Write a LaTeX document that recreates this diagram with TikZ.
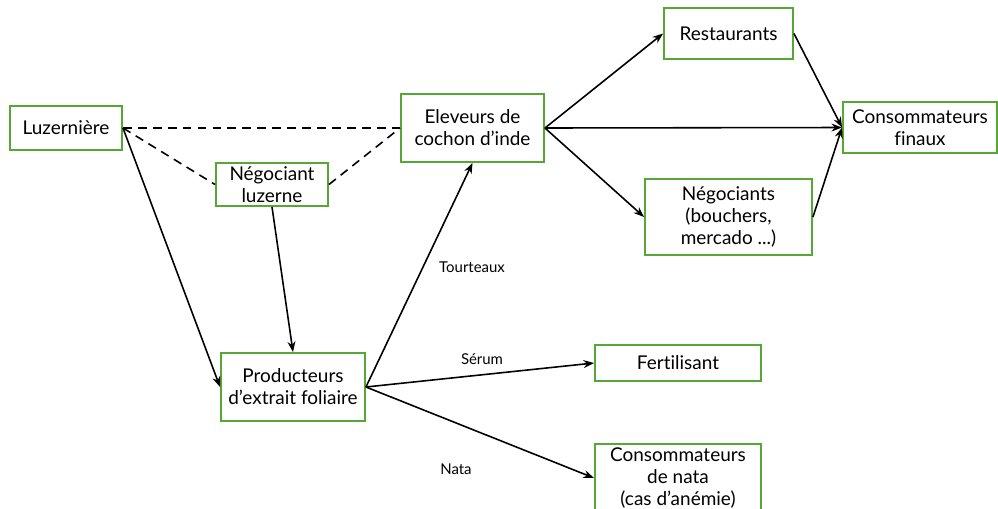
\documentclass[tikz,border=0pt]{standalone}
\usepackage{fontspec}
\setmainfont[Ligatures={NoCommon}]{Lato}
\usetikzlibrary{arrows.meta}
\definecolor{boxgreen}{RGB}{86,168,52}

\begin{document}
\begin{tikzpicture}[x=0.02cm,y=-0.02cm]
    \tikzset{
        acteur/.style={draw=boxgreen, line width=1.1pt, fill=white, align=center,
            inner sep=2pt, font=\fontsize{10.8}{12.5}\selectfont},
        flux/.style={-{Stealth[length=6pt,width=4.5pt]}, line width=0.9pt},
        lien/.style={dashed, dash pattern=on 5pt off 3.5pt, line width=0.9pt},
        produit/.style={inner sep=1pt, font=\fontsize{8.5}{10}\selectfont}
    }
    \useasboundingbox (0,0) rectangle (998,508);
    % acteurs
    \node[acteur, minimum width=2.24cm, minimum height=0.88cm] (luz) at (66,128) {Luzernière};
    \node[acteur, minimum width=2.24cm, minimum height=0.86cm] (neg) at (272,184.5) {Négociant\\luzerne};
    \node[acteur, minimum width=2.86cm, minimum height=1.36cm] (elev) at (472.5,128) {Eleveurs de\\cochon d’inde};
    \node[acteur, minimum width=2.88cm, minimum height=1.36cm] (prod) at (293,387) {Producteurs\\d’extrait foliaire};
    \node[acteur, minimum width=2.58cm, minimum height=1.02cm] (rest) at (728.5,33.5) {Restaurants};
    \node[acteur, minimum width=3.34cm, minimum height=1.52cm] (negs) at (728.5,217) {Négociants\\(bouchers,\\mercado ...)};
    \node[acteur, minimum width=3.08cm, minimum height=1.02cm] (cf) at (920,127.5) {Consommateurs\\finaux};
    \node[acteur, minimum width=3.32cm, minimum height=0.72cm] (fert) at (678,363) {Fertilisant};
    \node[acteur, minimum width=3.32cm, minimum height=1.36cm] (nata) at (678,478) {Consommateurs\\de nata\\(cas d’anémie)};
    % produits
    \node[produit] (tourt) at (472,267) {Tourteaux};
    \node[produit] (serum) at (482,359) {Sérum};
    \node[produit] (natalab) at (456,469) {Nata};
    % liens
    \draw[lien] (luz.east) -- (elev.west);
    \draw[lien] (luz.east) -- (neg.west);
    \draw[lien] (neg.east) -- (elev.west);
    % flux
    \draw[flux] (luz.east) -- (prod.west);
    \draw[flux] (neg.south) -- (prod.north);
    \foreach \cible in {elev.south, fert.west, nata.west}{
        \draw[flux] (prod.east) -- (\cible);
    }
    \foreach \cible in {rest.west, cf.west, negs.west}{
        \draw[flux] (elev.east) -- (\cible);
    }
    \draw[flux] (rest.east) -- (cf.west);
    \draw[flux] (negs.east) -- (cf.west);
\end{tikzpicture}
\end{document}
